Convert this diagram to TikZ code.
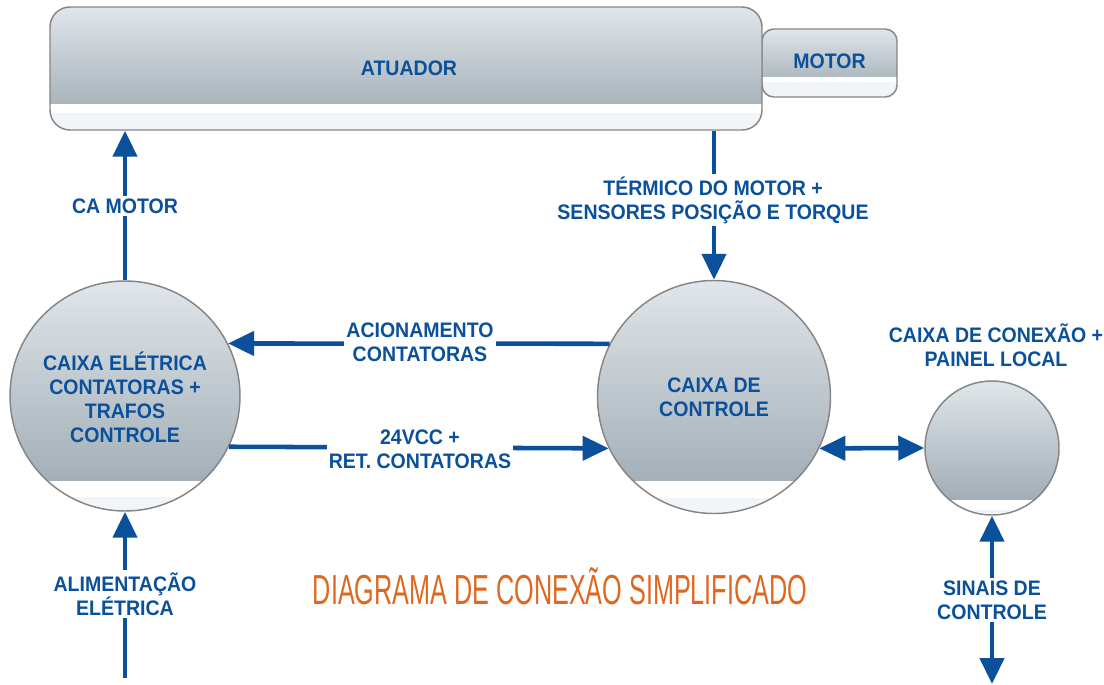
\documentclass[tikz,border=0pt]{standalone}
\usepackage{fontspec}
\usetikzlibrary{arrows.meta,calc}
\newfontfamily\lblfont[FakeStretch=0.93]{Liberation Sans}
\newfontfamily\ttlfont[FakeStretch=0.6]{Liberation Sans}
\definecolor{dblue}{HTML}{0A509B}
\definecolor{gtop}{HTML}{E0E6EA}
\definecolor{gbot}{HTML}{9AA6AF}
\definecolor{pale}{HTML}{F2F5F7}
\definecolor{edge}{HTML}{858585}
\definecolor{ttlorange}{HTML}{E0671F}
\tikzset{
  gshade/.style 2 args={fill=white, draw=edge, line width=1.1pt, inner sep=0pt,
    path picture={
      \shade[sharp corners, top color=gtop, bottom color=gbot]
        (path picture bounding box.north west) rectangle ([yshift=#1]path picture bounding box.south east);
      \fill[sharp corners, pale] (path picture bounding box.south west) rectangle ([yshift=#2]path picture bounding box.south east);
    }},
  boxtxt/.style={text=dblue, font=\lblfont\bfseries\fontsize{15.75pt}{18pt}\selectfont, align=center},
  lbl/.style={boxtxt, fill=white, inner xsep=1.5pt, inner ysep=2pt},
  conn/.style={draw=dblue, line width=3.4pt},
  tip/.style={-{Triangle[length=19.5pt,width=18pt]}},
  tips/.style={{Triangle[length=19.5pt,width=18pt]}-{Triangle[length=19.5pt,width=18pt]}},
}
\begin{document}
\begin{tikzpicture}[x=0.75pt,y=-0.75pt]
\useasboundingbox (0,0) rectangle (1104,685);
% boxes
\node[gshade={15pt}{11.25pt}, rectangle, rounded corners=9pt, minimum width=101.25pt, minimum height=51pt] (motor) at (829.5,63) {};
\node[boxtxt] (motortxt) at (829.5,61) {MOTOR};
\node[gshade={19.5pt}{12.75pt}, rectangle, rounded corners=15pt, minimum width=534pt, minimum height=92.25pt] (act) at (406,68.5) {};
\node[boxtxt] (acttxt) at (409,68) {ATUADOR};
\node[gshade={23.25pt}{10.5pt}, circle, minimum size=172.5pt] (c1) at (125,396) {};
\node[boxtxt] (c1txt) at (125,397) {CAIXA ELÉTRICA\\CONTATORAS +\\TRAFOS\\CONTROLE};
\node[gshade={24.75pt}{12pt}, circle, minimum size=174.75pt] (c2) at (714,397) {};
\node[boxtxt] (c2txt) at (714,397) {CAIXA DE\\CONTROLE};
\node[gshade={12pt}{4pt}, circle, minimum size=100.5pt] (c3) at (992,448) {};
\node[boxtxt] (c3lbl) at (996,345) {CAIXA DE CONEXÃO +\\PAINEL LOCAL};
% free ends
\coordinate (inbot) at (125,678);
\coordinate (sigbot) at (992,684);
% connectors
\draw[conn,tip] (c1.north) -- (c1.north |- act.south);
\draw[conn,tip] (c2.north |- act.south) -- (c2.north);
\draw[conn,tip] (c2.153) -- (c1.27);
\draw[conn,tip] (c1.-26) -- (c2.206);
\draw[conn,tips] (c2.-26) -- (c3.west);
\draw[conn,tip] (inbot) -- (c1.south);
\draw[conn,tips] (c3.south) -- (sigbot);
% labels
\node[lbl] (lcam) at (125,206) {CA MOTOR};
\node[lbl] (lterm) at (713,200) {TÉRMICO DO MOTOR +\\SENSORES POSIÇÃO E TORQUE};
\node[lbl] (lacio) at (420,342) {ACIONAMENTO\\CONTATORAS};
\node[lbl] (l24) at (420,449) {24VCC +\\RET. CONTATORAS};
\node[lbl] (lalim) at (125,594) {ALIMENTAÇÃO\\ELÉTRICA};
\node[lbl] (lsin) at (992,600) {SINAIS DE\\CONTROLE};
\node[text=ttlorange, font=\ttlfont\fontsize{31.5pt}{36pt}\selectfont] (title) at (560,586) {DIAGRAMA DE CONEXÃO SIMPLIFICADO};
\end{tikzpicture}
\end{document}
